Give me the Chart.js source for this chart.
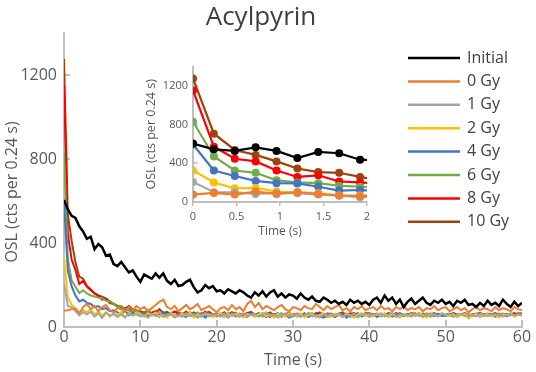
<!DOCTYPE html>
<html>
<head>
<meta charset="utf-8">
<script src="https://cdn.jsdelivr.net/npm/chart.js@4.4.1/dist/chart.umd.min.js"></script>
<style>
  html, body { margin: 0; padding: 0; background: #fff; }
  #wrap { position: relative; width: 536px; height: 372px; }
  #main { position: absolute; left: 0; top: 0; }
  #inset { position: absolute; left: 130px; top: 55px; }
</style>
</head>
<body>
<div id="wrap">
  <canvas id="main" width="536" height="372"></canvas>
  <canvas id="inset" width="250" height="190"></canvas>
</div>
<script>
// Acylpyrin OSL decay curves, main plot (0-60 s, every 0.5 s) + inset (0-2 s, 0.24 s channels)

const seriesNames = ['Initial', '0 Gy', '1 Gy', '2 Gy', '4 Gy', '6 Gy', '8 Gy', '10 Gy'];
const seriesColors = ['#000000', '#ED7D31', '#A5A5A5', '#FFC000', '#4472C4', '#70AD47', '#FF0000', '#9E420E'];

const mainYTicks = [0, 400, 800, 1200];
const insetYTicks = [0, 400, 800, 1200];

// main plot, one value every 0.5 s from 0 to 60 s
const initialMain = [
  605,560,530,520,480,455,420,430,370,395, 380,340,345,300,290,310,285,260,270,240,
  215,250,240,230,255,235,255,220,205,225, 195,200,215,225,190,165,175,200,185,195,
  170,175,160,180,170,160,175,165,150,140, 165,150,170,145,165,175,145,160,140,155,
  150,135,160,140,130,145,125,120,140,130, 115,125,110,120,105,130,115,125,110,120,
  105,130,140,115,150,125,140,110,130,95,  120,135,110,125,140,115,105,125,115,130,
  110,120,100,125,115,130,105,110,95,115,  100,125,105,115,100,130,110,95,120,100, 115];
const gy0Main = [
  77,80,85,88,65,95,110,85,100,75, 95,105,80,70,90,85,75,95,80,100,
  85,95,75,90,105,120,130,95,85,100, 75,90,105,85,95,110,80,90,100,85,
  70,90,95,80,105,85,95,75,110,125, 95,115,85,100,90,80,95,105,85,75,
  95,90,80,100,90,85,110,95,80,100, 85,95,105,80,90,75,95,85,100,80,
  90,95,80,100,85,90,75,95,85,100, 80,90,85,95,75,90,85,100,80,90,
  95,75,85,95,80,90,70,85,95,80, 90,85,75,95,80,90,85,75,95,85, 80];
const gy1Main = [
  208,100,94,76,55,70,60,72,50,65, 42,68,55,62,48,60,45,66,55,63,
  50,58,44,62,52,70,48,56,60,45, 55,48,66,52,60,44,58,65,50,62,
  58,50,64,46,62,55,48,66,52,60, 62,48,56,70,52,60,45,58,64,50,
  55,62,48,58,66,50,56,45,60,54, 60,52,66,48,58,55,62,46,56,64,
  52,60,56,64,50,58,66,48,60,55, 58,50,64,55,48,62,56,60,52,66,
  55,62,48,58,64,52,60,56,50,62, 58,52,60,55,62,50,58,64,54,60, 56];
const gy2Main = [
  326,141,106,88,67,80,70,85,60,75, 55,70,50,65,58,72,48,62,55,68,
  62,48,66,55,70,50,58,45,64,56, 50,62,55,68,45,60,52,66,58,48,
  55,68,48,60,52,64,58,45,62,56, 48,60,66,52,58,44,62,55,50,66,
  60,52,64,46,56,62,50,58,66,48, 52,64,55,48,62,56,44,60,66,52,
  58,50,62,55,66,48,60,52,45,62, 50,60,54,66,58,45,62,56,50,64,
  62,52,60,46,58,64,40,55,62,52, 56,62,50,58,45,60,55,62,50,58, 54];
const gy4Main = [
  595,268,193,150,122,130,115,110,95,100, 85,90,75,80,70,62,78,55,68,60,
  58,70,52,65,60,48,72,55,62,50, 62,55,48,70,58,52,66,45,60,55,
  50,62,56,45,68,52,60,55,48,64, 58,52,64,48,60,55,66,50,58,45,
  52,60,55,66,48,58,62,50,45,60, 64,50,58,62,45,60,52,66,50,58,
  55,62,48,60,56,64,50,58,66,52, 60,52,66,55,62,48,58,52,64,55,
  52,58,64,50,60,55,48,62,58,66, 60,55,62,48,58,64,52,60,56,62, 58];
const gy6Main = [
  830,325,222,192,162,175,160,150,145,140, 137,125,122,110,95,100,85,78,70,82,
  66,58,72,55,64,70,52,60,68,57, 58,66,50,62,55,70,48,60,64,52,
  62,55,48,66,58,50,64,60,52,58, 55,64,50,58,62,48,56,66,52,60,
  58,50,62,55,60,66,48,56,52,64, 50,62,56,52,64,48,60,55,62,56,
  62,55,60,50,58,62,55,64,48,58, 56,64,52,60,55,66,50,62,58,52,
  60,55,50,62,56,58,64,52,60,55, 52,60,56,62,50,58,64,55,60,56, 60];
const gy8Main = [
  1153,445,320,272,205,220,192,175,160,150, 130,135,114,110,100,95,85,90,72,80,
  70,62,55,68,75,58,64,50,66,72, 64,55,70,58,50,66,60,72,55,62,
  56,64,52,60,70,55,62,48,66,58, 60,52,66,55,48,62,58,50,64,56,
  62,56,50,64,58,52,66,60,55,48, 56,48,62,58,52,66,55,50,60,64,
  50,58,64,55,62,50,58,66,60,54, 62,55,58,66,50,60,64,55,52,62,
  56,64,58,52,60,66,55,58,64,50, 60,56,62,55,64,58,52,60,66,58, 62];
const gy10Main = [
  1277,535,410,308,240,230,195,180,160,150, 145,135,122,110,100,95,88,100,85,78,
  75,68,80,62,70,85,66,72,60,74, 68,60,74,56,70,62,58,66,72,60,
  64,58,70,55,62,68,52,60,66,72, 58,66,55,62,70,56,64,52,60,68,
  56,64,60,52,66,58,62,70,58,64, 62,56,64,70,58,62,66,58,55,66,
  66,60,55,64,58,66,62,56,64,60, 58,66,62,55,64,58,60,66,56,62,
  62,56,66,60,58,64,60,55,62,66, 58,64,60,66,56,62,58,64,60,66, 64];
const mainSeries = [initialMain, gy0Main, gy1Main, gy2Main, gy4Main, gy6Main, gy8Main, gy10Main];

// inset, first channels (0.24 s each)
const insetTime = [0, 0.24, 0.48, 0.72, 0.96, 1.2, 1.44, 1.68, 1.92, 2.16];
const initialInset = [605, 545, 528, 565, 528, 454, 518, 504, 437, 430];
const gy0Inset     = [77, 94, 77, 108, 84, 101, 84, 67, 60, 70];
const gy1Inset     = [208, 101, 101, 84, 94, 91, 77, 67, 50, 55];
const gy2Inset     = [326, 202, 141, 145, 108, 101, 91, 67, 67, 65];
const gy4Inset     = [595, 326, 269, 218, 195, 192, 158, 118, 124, 110];
const gy6Inset     = [830, 471, 326, 302, 225, 202, 195, 168, 158, 150];
const gy8Inset     = [1153, 571, 447, 420, 326, 259, 276, 212, 202, 190];
const gy10Inset    = [1277, 706, 538, 487, 420, 346, 309, 302, 259, 220];
const insetSeries = [initialInset, gy0Inset, gy1Inset, gy2Inset, gy4Inset, gy6Inset, gy8Inset, gy10Inset];

const mainTime = initialMain.map((_, i) => i * 0.5);

const FONT = "'Open Sans', sans-serif";
const AXIS = '#BFBFBF';
const TXT = '#595959';
Chart.defaults.font.family = FONT;
Chart.defaults.color = TXT;
const plain = v => String(v);

// tick marks pointing into the plot area
const innerTicks = {
    id: 'innerTicks',
    beforeDatasetsDraw(chart, args, opts) {
        const { ctx, chartArea: { left, bottom } } = chart;
        ctx.save();
        ctx.strokeStyle = opts.color;
        ctx.lineWidth = opts.width;
        ctx.beginPath();
        if (opts.x) chart.scales.x.ticks.forEach(t => {
            const px = Math.round(chart.scales.x.getPixelForValue(t.value));
            if (px > left + 2) { ctx.moveTo(px, bottom); ctx.lineTo(px, bottom - opts.x); }
        });
        if (opts.y) chart.scales.y.ticks.forEach(t => {
            const py = Math.round(chart.scales.y.getPixelForValue(t.value));
            if (py < bottom - 2) { ctx.moveTo(left, py); ctx.lineTo(left + opts.y, py); }
        });
        ctx.stroke();
        ctx.restore();
    }
};

// side legend + rotated y title for the main chart
const sideLegend = {
    id: 'sideLegend',
    afterDraw(chart, args, opts) {
        const ctx = chart.ctx;
        ctx.save();
        chart.data.datasets.forEach((ds, i) => {
            const y = opts.top + i * opts.step;
            ctx.strokeStyle = ds.borderColor;
            ctx.lineWidth = 2.5;
            ctx.beginPath(); ctx.moveTo(opts.x, y); ctx.lineTo(opts.x + opts.len, y); ctx.stroke();
            ctx.fillStyle = '#404040';
            ctx.font = '16px ' + FONT;
            ctx.textAlign = 'left';
            ctx.textBaseline = 'middle';
            ctx.fillText(ds.label, opts.x + opts.len + 7, y);
        });
        ctx.translate(opts.titleX, opts.titleY);
        ctx.rotate(-Math.PI / 2);
        ctx.fillStyle = TXT;
        ctx.font = '16px ' + FONT;
        ctx.textAlign = 'center';
        ctx.textBaseline = 'middle';
        ctx.fillText('OSL (cts per 0.24 s)', 0, 0);
        ctx.restore();
    }
};

new Chart(document.getElementById('main'), {
    type: 'line',
    data: {
        datasets: seriesNames.map((name, i) => ({
            label: name,
            data: mainSeries[i].map((v, j) => ({ x: mainTime[j], y: v })),
            borderColor: seriesColors[i],
            borderWidth: i === 0 ? 2.5 : 2,
            pointRadius: 0,
            tension: 0,
        }))
    },
    options: {
        responsive: false,
        animation: false,
        events: [],
        layout: { autoPadding: false, padding: { left: 0, right: 14, top: 0, bottom: 0 } },
        scales: {
            x: {
                type: 'linear', min: 0, max: 60,
                afterFit: s => { s.height = 45; },
                ticks: { stepSize: 10, padding: 1, font: { size: 16 }, color: TXT, maxRotation: 0, callback: plain },
                grid: { display: false, drawTicks: false },
                border: { color: AXIS, width: 2 },
                title: { display: true, text: 'Time (s)', font: { size: 16 }, color: TXT, padding: { bottom: 2 } },
            },
            y: {
                min: 0, max: 1400,
                afterFit: s => { s.width = 64; },
                afterBuildTicks: s => { s.ticks = mainYTicks.map(v => ({ value: v })); },
                ticks: { padding: 7, font: { size: 16 }, color: TXT, callback: plain },
                grid: { display: false, drawTicks: false },
                border: { color: AXIS, width: 2 },
            }
        },
        plugins: {
            legend: { display: false },
            tooltip: { enabled: false },
            title: { display: true, text: 'Acylpyrin', font: { size: 26, weight: 'normal' }, color: '#404040', padding: { top: 2, bottom: 0 } },
            innerTicks: { x: 7, y: 6, color: AXIS, width: 2 },
            sideLegend: { x: 408, len: 52, top: 58, step: 23.4, titleX: 12, titleY: 192 },
        }
    },
    plugins: [innerTicks, sideLegend]
});

new Chart(document.getElementById('inset'), {
    type: 'line',
    data: {
        datasets: seriesNames.map((name, i) => ({
            label: name,
            data: insetSeries[i].map((v, j) => ({ x: insetTime[j], y: v })),
            borderColor: seriesColors[i],
            backgroundColor: seriesColors[i],
            pointBackgroundColor: seriesColors[i],
            borderWidth: 2.2,
            pointRadius: 4,
            pointBorderWidth: 0,
            tension: 0,
        }))
    },
    options: {
        responsive: false,
        animation: false,
        events: [],
        layout: { autoPadding: false, padding: { left: 0, right: 13, top: 9, bottom: 0 } },
        scales: {
            x: {
                type: 'linear', min: 0, max: 2,
                afterFit: s => { s.height = 43; },
                ticks: { stepSize: 0.5, padding: 4, font: { size: 11 }, color: TXT, maxRotation: 0, callback: plain },
                grid: { display: true, drawOnChartArea: false, drawTicks: true, tickLength: 4, color: AXIS, lineWidth: 1.5 },
                border: { color: AXIS, width: 2 },
                title: { display: true, text: 'Time (s)', font: { size: 12 }, color: TXT, padding: { bottom: 6 } },
            },
            y: {
                min: 0, max: 1400,
                afterFit: s => { s.width = 63; },
                afterBuildTicks: s => { s.ticks = insetYTicks.map(v => ({ value: v })); },
                ticks: { padding: 5, font: { size: 11 }, color: TXT, callback: plain },
                grid: { display: false, drawTicks: false },
                border: { color: AXIS, width: 2 },
                title: { display: true, text: 'OSL (cts per 0.24 s)', font: { size: 12.5 }, color: TXT, padding: { top: 14 } },
            }
        },
        plugins: {
            legend: { display: false },
            tooltip: { enabled: false },
            innerTicks: { x: 0, y: 5, color: AXIS, width: 1.5 },
        }
    },
    plugins: [innerTicks]
});
</script>
</body>
</html>
